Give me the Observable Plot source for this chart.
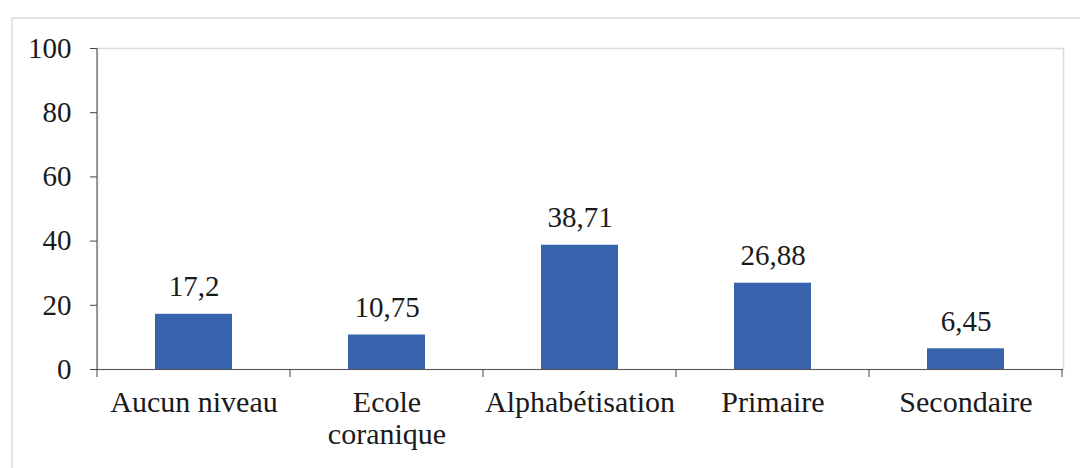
<!DOCTYPE html>
<html>
<head>
<meta charset="utf-8">
<script src="https://cdn.jsdelivr.net/npm/d3@7"></script>
<script src="https://cdn.jsdelivr.net/npm/@observablehq/plot@0.6"></script>
<style>
  html, body { margin: 0; padding: 0; background: #fff; }
  #wrap { position: relative; width: 1080px; height: 468px; overflow: hidden; }
  #box { position: absolute; left: 11px; top: 17px; width: 1100px; height: 500px;
         border: 2px solid #e4e4e4; box-sizing: border-box; }
  #chart { position: absolute; left: 0; top: 0; }
</style>
</head>
<body>
<div id="wrap">
  <div id="box"></div>
  <div id="chart"></div>
</div>
<script>
// Niveau d'instruction (%)
const categories = ["Aucun niveau", "Ecole\ncoranique", "Alphabétisation", "Primaire", "Secondaire"];
const values = [17.2, 10.75, 38.71, 26.88, 6.45];
const yTicks = [0, 20, 40, 60, 80, 100];

const data = categories.map((c, i) => ({cat: c, value: values[i]}));
const frNum = v => String(v).replace(".", ",");
const FONT = "'Liberation Serif', 'Times New Roman', Tinos, serif";
const NUM_FS = 29;
const CAT_FS = 30;

const plot = Plot.plot({
  width: 1080,
  height: 468,
  marginLeft: 97,
  marginRight: 17,
  marginTop: 48,
  marginBottom: 99,
  style: `font-family: ${FONT}; background: transparent; color: #1a1a1a;`,
  x: {domain: categories, paddingInner: 0.6, paddingOuter: 0.3, label: null},
  y: {domain: [0, 100], label: null},
  marks: [
    Plot.frame({stroke: "#dcdcdc", strokeWidth: 1.5}),
    Plot.barY(data, {x: "cat", y: "value", fill: "#3763ad"}),
    Plot.text(data, {x: "cat", y: "value", text: d => frNum(d.value), lineAnchor: "bottom", dy: -18,
      fontFamily: FONT, fontSize: NUM_FS, fill: "#1a1a1a"}),
    Plot.axisY(yTicks, {tickSize: 7, tickPadding: 19, tickFormat: d => d, fontFamily: FONT, fontSize: NUM_FS,
      stroke: "#444", fill: "#1a1a1a"}),
    Plot.axisX({tickSize: 0, tickPadding: 20, fontFamily: FONT, fontSize: CAT_FS, lineHeight: 1.07, fill: "#1a1a1a"}),
    Plot.ruleY([0], {stroke: "#555", strokeWidth: 1.2})
  ]
});
document.getElementById("chart").appendChild(plot);

const svg = d3.select(plot);
svg.selectAll("text").style("font-family", FONT);

// y-axis line and category separator ticks along the baseline
const xs = plot.scale("x");
const ys = plot.scale("y");
const step = xs.step, bw = xs.bandwidth;
const y0 = ys.apply(0);
const left = xs.apply(categories[0]) - (step - bw) / 2;
svg.append("line")
  .attr("x1", left).attr("x2", left)
  .attr("y1", ys.apply(100)).attr("y2", y0)
  .attr("stroke", "#444");
const bounds = categories.map(c => xs.apply(c) - (step - bw) / 2);
bounds.push(xs.apply(categories[categories.length - 1]) + bw + (step - bw) / 2);
svg.append("g").selectAll("line").data(bounds).join("line")
  .attr("x1", d => d).attr("x2", d => d)
  .attr("y1", y0).attr("y2", y0 + 8)
  .attr("stroke", "#444");
</script>
</body>
</html>
